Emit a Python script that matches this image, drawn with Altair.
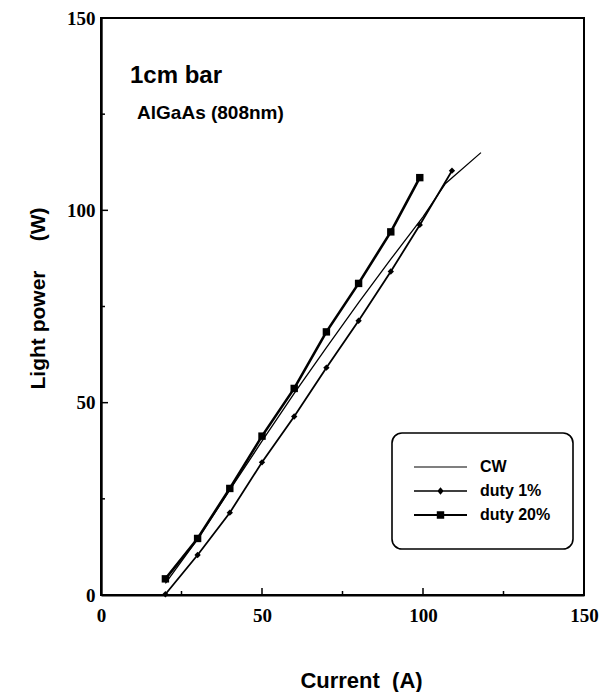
import altair as alt
import pandas as pd

# ---- data ----
series_names = ["CW", "duty 1%", "duty 20%"]

cw_current = [20, 30, 40, 50, 60, 70, 80, 90, 100, 107, 118]
cw_power = [3.0, 14.5, 27.3, 40.0, 52.4, 64.3, 76.0, 87.3, 98.3, 107.0, 115.0]

d1_current = [20, 30, 40, 50, 60, 70, 80, 90, 99, 109]
d1_power = [0.2, 10.4, 21.4, 34.5, 46.4, 59.1, 71.3, 84.1, 96.2, 110.3]

d20_current = [20, 30, 40, 50, 60, 70, 80, 90, 99]
d20_power = [4.2, 14.7, 27.7, 41.3, 53.7, 68.4, 81.0, 94.4, 108.5]

axis_label_values = [0, 50, 100, 150]
major_ticks = [50, 100]
minor_ticks = [25, 75, 125]

note_texts = ["1cm bar", "AlGaAs (808nm)"]
note_current = [9.0, 11.2]
note_power = [133.1, 123.7]

# legend symbols: line (+ marker) drawn as unit paths
legend_paths = [
    "M-1,-0.022H1V0.022H-1Z",
    "M-1,-0.03H1V0.03H-1Z M0,-0.14L0.12,0L0,0.14L-0.12,0Z",
    "M-1,-0.042H1V0.042H-1Z M-0.14,-0.14H0.14V0.14H-0.14Z",
]

# ---- tables ----
df_cw = pd.DataFrame({"current": cw_current, "power": cw_power})
df_d1 = pd.DataFrame({"current": d1_current, "power": d1_power})
df_d20 = pd.DataFrame({"current": d20_current, "power": d20_power})
df_xmaj = pd.DataFrame({"current": major_ticks})
df_xmin = pd.DataFrame({"current": minor_ticks})
df_ymaj = pd.DataFrame({"power": major_ticks})
df_ymin = pd.DataFrame({"power": minor_ticks})
df_leg = pd.DataFrame({"series": series_names})

W, H = 483, 577
NB = "\u00a0"

xs = alt.Scale(domain=[0, 150], nice=False, zero=False)
ys = alt.Scale(domain=[0, 150], nice=False, zero=False)

xaxis = alt.Axis(
    values=axis_label_values, ticks=False, tickSize=0, grid=False,
    domainColor="black", domainWidth=2.2,
    labelFont="Liberation Serif", labelFontWeight="bold", labelFontSize=19,
    labelColor="black", labelPadding=11, labelFlush=False, labelOverlap=False,
    format="d",
    title="Current" + NB * 2 + "(A)", titleFont="Liberation Sans", titleFontSize=22,
    titleFontWeight="bold", titleColor="black", titleX=260, titleY=92,
    titleAlign="center", titleBaseline="alphabetic",
)
yaxis = alt.Axis(
    values=axis_label_values, ticks=False, tickSize=0, grid=False,
    domainColor="black", domainWidth=2.4,
    labelFont="Liberation Serif", labelFontWeight="bold", labelFontSize=19,
    labelColor="black", labelPadding=6, labelFlush=False, labelOverlap=False,
    format="d",
    title="Light power" + NB * 5 + "(W)", titleFont="Liberation Sans", titleFontSize=21,
    titleFontWeight="bold", titleColor="black", titleAngle=270, titleX=-57, titleY=280,
    titleAlign="center", titleBaseline="alphabetic",
)

X = alt.X("current:Q", scale=xs, axis=xaxis)
Y = alt.Y("power:Q", scale=ys, axis=yaxis)

line_cw = alt.Chart(df_cw).mark_line(color="black", strokeWidth=1.3).encode(x=X, y=Y)
line_d1 = alt.Chart(df_d1).mark_line(color="black", strokeWidth=1.8).encode(x=X, y=Y)
line_d20 = alt.Chart(df_d20).mark_line(color="black", strokeWidth=2.6).encode(x=X, y=Y)
pts_d1 = alt.Chart(df_d1).mark_point(shape="diamond", filled=True, color="black", size=40, opacity=1).encode(x=X, y=Y)
pts_d20 = alt.Chart(df_d20).mark_point(shape="square", filled=True, color="black", size=55, opacity=1).encode(x=X, y=Y)

xt_major = alt.Chart(df_xmaj).mark_rule(color="black", strokeWidth=1.5).encode(
    x=X, y=alt.value(H), y2=alt.value(H - 7))
xt_minor = alt.Chart(df_xmin).mark_rule(color="black", strokeWidth=1.5).encode(
    x=X, y=alt.value(H), y2=alt.value(H - 4))
yt_major = alt.Chart(df_ymaj).mark_rule(color="black", strokeWidth=1.5).encode(
    y=Y, x=alt.value(0), x2=alt.value(7))
yt_minor = alt.Chart(df_ymin).mark_rule(color="black", strokeWidth=1.5).encode(
    y=Y, x=alt.value(0), x2=alt.value(4))

df_n1 = pd.DataFrame({"current": note_current[:1], "power": note_power[:1], "t": note_texts[:1]})
df_n2 = pd.DataFrame({"current": note_current[1:], "power": note_power[1:], "t": note_texts[1:]})
note1 = alt.Chart(df_n1).mark_text(
    align="left", baseline="alphabetic", font="Liberation Sans", fontWeight="bold",
    fontSize=24, color="black").encode(x=X, y=Y, text="t:N")
note2 = alt.Chart(df_n2).mark_text(
    align="left", baseline="alphabetic", font="Liberation Sans", fontWeight="bold",
    fontSize=19, color="black").encode(x=X, y=Y, text="t:N")

legend_layer = alt.Chart(df_leg).mark_point(filled=True, opacity=0).encode(
    x=alt.value(0), y=alt.value(0),
    color=alt.value("black"),
    shape=alt.Shape(
        "series:N",
        scale=alt.Scale(domain=series_names, range=legend_paths),
        legend=alt.Legend(
            orient="none", legendX=291, legendY=415, title=None,
            symbolSize=2809, symbolStrokeWidth=0, symbolFillColor="black",
            symbolOpacity=1, labelFont="Liberation Sans", labelFontSize=16,
            labelFontWeight="bold", labelColor="black", labelOffset=13,
            padding=22, clipHeight=24, rowPadding=0,
            strokeColor="black", cornerRadius=10, fillColor="white",
        ),
    ),
)

chart = alt.layer(
    line_cw, line_d1, line_d20, pts_d1, pts_d20,
    xt_major, xt_minor, yt_major, yt_minor,
    note1, note2, legend_layer,
).properties(
    width=W, height=H,
    autosize=alt.AutoSizeParams(type="none"),
    padding={"left": 101, "top": 18, "right": 29, "bottom": 97},
    background="white",
).configure_view(
    stroke="black", strokeWidth=2
).configure_legend(
    strokeWidth=1.6
)

chart.save("out.html", embed_options={"renderer": "svg", "actions": False})
